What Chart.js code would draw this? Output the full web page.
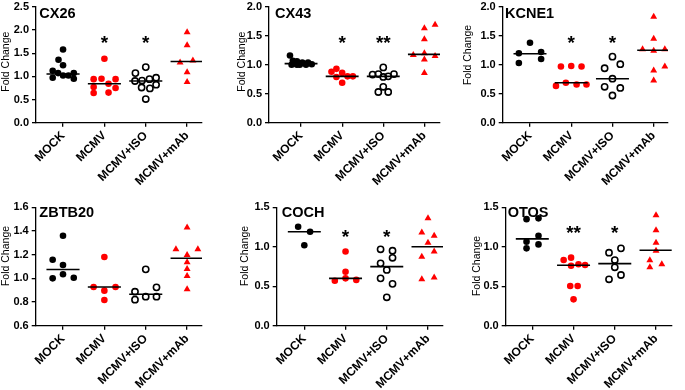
<!DOCTYPE html>
<html>
<head>
<meta charset="utf-8">
<script src="https://cdn.jsdelivr.net/npm/chart.js@4.4.1/dist/chart.umd.min.js"></script>
<style>
  body { margin: 0; background: #fff; width: 685px; height: 390px; position: relative; overflow: hidden; }
  canvas { position: absolute; }
</style>
</head>
<body>
<script>
const groups = ['MOCK', 'MCMV', 'MCMV+ISO', 'MCMV+mAb'];

// CX26
const cx26Values = [
  [1.58, 1.36, 1.24, 1.12, 0.97, 1.07, 1.02, 1.02, 1.07, 0.95],
  [1.38, 0.94, 0.95, 0.94, 0.77, 0.84, 0.75, 0.64, 0.65],
  [1.20, 1.07, 0.90, 0.91, 0.94, 0.97, 0.82, 0.76, 0.74, 0.51],
  [1.95, 1.67, 1.30, 1.34, 1.09, 0.88]
];
const cx26Jitter = [
  [0, -0.11, 0, -0.25, -0.25, -0.12, 0, 0.13, 0.26, 0.26],
  [0, -0.26, -0.07, 0.27, -0.26, 0.1, 0.27, -0.26, 0.1],
  [0, -0.25, -0.26, -0.09, 0.09, 0.25, 0.25, -0.1, 0.1, 0],
  [0, 0, -0.17, 0.14, 0, 0]
];
const cx26Medians = [1.05, 0.84, 0.90, 1.32];
const cx26Stars = ['', '*', '*', ''];
const cx26StarY = 1.81;
const cx26Ticks = [0, 0.5, 1.0, 1.5, 2.0, 2.5];

// CX43
const cx43Values = [
  [1.16, 1.07, 1.00, 1.06, 1.00, 1.04, 1.00, 1.04, 1.01, 1.00],
  [0.93, 0.88, 0.86, 0.79, 0.80, 0.80, 0.69],
  [0.955, 0.83, 0.84, 0.79, 0.80, 0.84, 0.62, 0.53, 0.53],
  [1.69, 1.63, 1.44, 1.17, 1.20, 1.15, 1.09, 0.86]
];
const cx43Jitter = [
  [-0.27, -0.2, -0.23, -0.1, -0.03, 0.03, 0.12, 0.17, 0.26, -0.1],
  [-0.14, -0.26, 0, -0.14, 0.13, 0.26, 0],
  [0, -0.26, -0.12, 0, 0.12, 0.26, 0, -0.12, 0.12],
  [0.26, 0, 0, -0.27, 0, 0.26, 0, 0]
];
const cx43Medians = [1.02, 0.80, 0.80, 1.18];
const cx43Stars = ['', '*', '**', ''];
const cx43StarY = 1.45;
const cx43Ticks = [0, 0.5, 1.0, 1.5, 2.0];

// KCNE1
const kcne1Values = [
  [1.38, 1.20, 1.22, 1.03, 1.10],
  [0.97, 0.98, 0.97, 0.635, 0.69, 0.66, 0.66],
  [1.14, 0.94, 1.01, 0.76, 0.62, 0.60, 0.47],
  [1.83, 1.45, 1.27, 1.24, 1.27, 0.97, 0.90, 0.73]
];
const kcne1Jitter = [
  [0, -0.27, 0.27, -0.27, 0.27],
  [-0.25, 0, 0.25, -0.37, -0.13, 0.13, 0.37],
  [0, -0.19, 0.19, 0, -0.19, 0.19, 0],
  [0, 0, -0.27, 0, 0.27, 0.27, 0, 0]
];
const kcne1Medians = [1.19, 0.69, 0.76, 1.25];
const kcne1Stars = ['', '*', '*', ''];
const kcne1StarY = 1.44;
const kcne1Ticks = [0, 0.5, 1.0, 1.5, 2.0];

// ZBTB20
const zbtb20Values = [
  [1.36, 1.157, 1.113, 1.0, 1.034, 1.005],
  [1.18, 0.927, 0.927, 0.896, 0.817],
  [1.076, 0.887, 0.82, 0.845, 0.924, 0.845],
  [1.43, 1.245, 1.245, 1.197, 1.135, 1.079, 1.02, 0.907]
];
const zbtb20Jitter = [
  [0, -0.25, 0, -0.25, 0, 0.26],
  [0, -0.26, 0.27, 0, 0],
  [0, -0.26, -0.26, 0, 0.26, 0.26],
  [0, -0.27, 0.26, 0, 0, 0, 0, 0]
];
const zbtb20Medians = [1.075, 0.927, 0.865, 1.17];
const zbtb20Stars = ['', '', '', ''];
const zbtb20StarY = 1.2;
const zbtb20Ticks = [0.6, 0.8, 1.0, 1.2, 1.4, 1.6];

// COCH
const cochValues = [
  [1.254, 1.19, 1.02],
  [0.94, 0.684, 0.57, 0.60, 0.58],
  [0.968, 0.95, 0.86, 0.79, 0.706, 0.60, 0.53, 0.36],
  [1.36, 1.18, 1.14, 1.05, 0.94, 0.874, 0.59, 0.61]
];
const cochJitter = [
  [-0.15, 0.14, 0],
  [0, 0, -0.26, 0, 0.26],
  [-0.15, 0.14, 0.14, -0.15, 0, -0.15, 0.14, 0],
  [0, -0.15, 0.15, 0, 0.15, -0.15, -0.15, 0.15]
];
const cochMedians = [1.19, 0.60, 0.748, 1.0];
const cochStars = ['', '*', '*', ''];
const cochStarY = 1.18;
const cochTicks = [0, 0.5, 1.0, 1.5];

// OTOS
const otosValues = [
  [1.35, 1.36, 1.14, 1.065, 1.03, 0.98],
  [0.832, 0.862, 0.76, 0.778, 0.769, 0.503, 0.503, 0.334],
  [0.98, 0.925, 0.832, 0.74, 0.588, 0.642],
  [1.40, 1.21, 1.05, 0.95, 0.83, 0.78, 0.74]
];
const otosJitter = [
  [-0.14, 0.15, 0.15, -0.14, 0.15, -0.14],
  [-0.24, -0.06, -0.06, 0.12, 0.28, -0.08, 0.1, 0],
  [0.15, -0.14, 0, 0, -0.14, 0.15],
  [0, 0, 0, 0, -0.15, 0.14, -0.15]
];
const otosMedians = [1.10, 0.765, 0.786, 0.955];
const otosStars = ['', '**', '*', ''];
const otosStarY = 1.225;
const otosTicks = [0, 0.5, 1.0, 1.5];

const FONT = "'Liberation Sans', Arial, Helvetica, sans-serif";

const markers = [
  { pointStyle: 'circle', pointRadius: 3.3, backgroundColor: '#000', borderColor: '#000', borderWidth: 0 },
  { pointStyle: 'circle', pointRadius: 3.3, backgroundColor: '#ff0000', borderColor: '#ff0000', borderWidth: 0 },
  { pointStyle: 'circle', pointRadius: 3.1, backgroundColor: 'rgba(0,0,0,0)', borderColor: '#000', borderWidth: 1.6 },
  { pointStyle: 'triangle', pointRadius: 4, backgroundColor: '#ff0000', borderColor: '#ff0000', borderWidth: 0 }
];

// box = plot area [left, top, right, bottom] in page pixels
const panels = [
  { name: 'CX26', values: cx26Values, jitter: cx26Jitter, medians: cx26Medians, stars: cx26Stars, starY: cx26StarY, yTicks: cx26Ticks,
    box: [36, 4, 202, 122.7], xRange: [-0.654, 3.36], row: 0, titleDx: 3.3, titleDy: 11, yTitle: [6, 61.7] },
  { name: 'CX43', values: cx43Values, jitter: cx43Jitter, medians: cx43Medians, stars: cx43Stars, starY: cx43StarY, yTicks: cx43Ticks,
    box: [269, 4, 440, 122.7], xRange: [-0.78, 3.38], row: 0, titleDx: 6, titleDy: 11, yTitle: [241.7, 61.7] },
  { name: 'KCNE1', values: kcne1Values, jitter: kcne1Jitter, medians: kcne1Medians, stars: kcne1Stars, starY: kcne1StarY, yTicks: kcne1Ticks,
    box: [502.7, 4, 668, 122.7], xRange: [-0.662, 3.347], row: 0, titleDx: 2.3, titleDy: 11, yTitle: [468, 55] },
  { name: 'ZBTB20', values: zbtb20Values, jitter: zbtb20Jitter, medians: zbtb20Medians, stars: zbtb20Stars, starY: zbtb20StarY, yTicks: zbtb20Ticks,
    box: [35.7, 207.3, 202, 325.7], xRange: [-0.66, 3.36], row: 1, titleDx: 3.6, titleDy: 9.4, yTitle: [6, 256] },
  { name: 'COCH', values: cochValues, jitter: cochJitter, medians: cochMedians, stars: cochStars, starY: cochStarY, yTicks: cochTicks,
    box: [276.7, 207.3, 443, 325.7], xRange: [-0.67, 3.364], row: 1, titleDx: 5, titleDy: 9.4, yTitle: [245, 256] },
  { name: 'OTOS', values: otosValues, jitter: otosJitter, medians: otosMedians, stars: otosStars, starY: otosStarY, yTicks: otosTicks,
    box: [505.7, 207.3, 671.7, 325.7], xRange: [-0.645, 3.38], row: 1, titleDx: 2, titleDy: 9.4, yTitle: [476.7, 266] }
];

function makePanel(p) {
  const [bl, bt, br, bb] = p.box;
  const cl = Math.max(0, Math.floor(bl - 42));
  const cr = Math.min(685, Math.ceil(br + 14));
  const ct = p.row === 0 ? 0 : 192;
  const cb = p.row === 0 ? 190 : 390;

  const canvas = document.createElement('canvas');
  canvas.width = cr - cl;
  canvas.height = cb - ct;
  canvas.style.left = cl + 'px';
  canvas.style.top = ct + 'px';
  canvas.style.width = (cr - cl) + 'px';
  canvas.style.height = (cb - ct) + 'px';
  document.body.appendChild(canvas);

  const datasets = [];
  groups.forEach((g, i) => {
    datasets.push(Object.assign({
      label: g,
      data: p.values[i].map((v, k) => ({ x: i + p.jitter[i][k], y: v })),
      order: 1
    }, markers[i]));
    datasets.push({
      label: g + ' median',
      data: [{ x: i - 0.4, y: p.medians[i] }, { x: i + 0.4, y: p.medians[i] }],
      showLine: true,
      borderColor: '#000',
      borderWidth: 1.6,
      pointRadius: 0,
      order: 0
    });
  });

  const annot = {
    id: 'annot',
    afterDraw(chart) {
      const ctx = chart.ctx;
      const xs = chart.scales.x, ys = chart.scales.y;
      ctx.save();
      ctx.fillStyle = '#000';
      // panel title
      ctx.font = 'bold 14.5px ' + FONT;
      ctx.textAlign = 'left';
      ctx.textBaseline = 'alphabetic';
      ctx.fillText(p.name, chart.chartArea.left + p.titleDx, chart.chartArea.top + p.titleDy);
      // significance stars
      ctx.font = 'bold 19px ' + FONT;
      ctx.textAlign = 'center';
      p.stars.forEach((s, i) => {
        if (!s) return;
        ctx.fillText(s, xs.getPixelForValue(i), ys.getPixelForValue(p.starY) + 10);
      });
      // y axis title
      ctx.font = '10.5px ' + FONT;
      ctx.textBaseline = 'middle';
      ctx.translate(p.yTitle[0] - cl, p.yTitle[1] - ct);
      ctx.rotate(-Math.PI / 2);
      ctx.fillText('Fold Change', 0, 0);
      ctx.restore();
    }
  };

  new Chart(canvas, {
    type: 'scatter',
    data: { datasets: datasets },
    options: {
      responsive: false,
      animation: false,
      events: [],
      layout: { padding: { left: 0, top: bt - ct, right: cr - br, bottom: 0 } },
      plugins: { legend: { display: false }, tooltip: { enabled: false } },
      scales: {
        x: {
          type: 'linear',
          min: p.xRange[0],
          max: p.xRange[1],
          afterBuildTicks: s => { s.ticks = groups.map((g, i) => ({ value: i })); },
          afterFit: s => { s.height = cb - bb; },
          ticks: {
            autoSkip: false,
            minRotation: 45,
            maxRotation: 45,
            padding: 2,
            color: '#000',
            font: { family: FONT, size: 12, weight: 'bold' },
            callback: v => groups[v]
          },
          grid: { drawOnChartArea: false, color: '#000', lineWidth: 1.3, tickLength: 4 },
          border: { color: '#000', width: 1.3 }
        },
        y: {
          min: p.yTicks[0],
          max: p.yTicks[p.yTicks.length - 1],
          afterBuildTicks: s => { s.ticks = p.yTicks.map(v => ({ value: v })); },
          afterFit: s => { s.width = bl - cl; },
          ticks: {
            padding: 3,
            color: '#000',
            font: { family: FONT, size: 11, weight: 'bold', lineHeight: 0.7 },
            callback: v => v.toFixed(1)
          },
          grid: { drawOnChartArea: false, color: '#000', lineWidth: 1.3, tickLength: 4 },
          border: { color: '#000', width: 1.3 }
        }
      }
    },
    plugins: [annot]
  });
}

panels.forEach(makePanel);
</script>
</body>
</html>
